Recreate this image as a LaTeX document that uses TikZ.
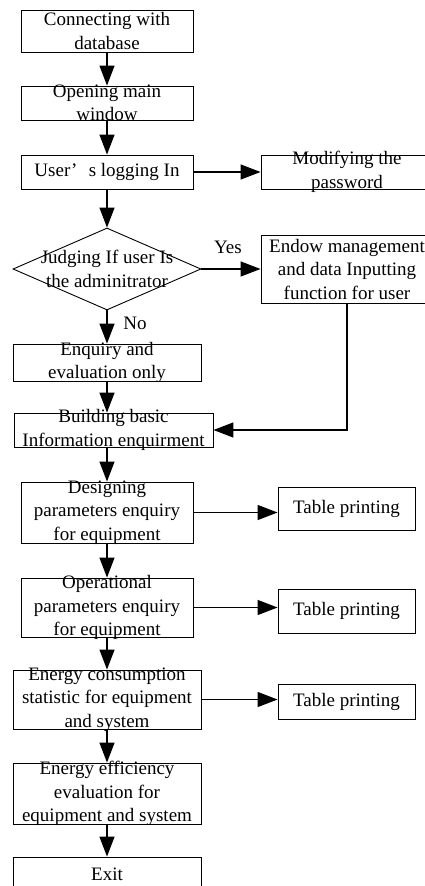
\documentclass[tikz,border=0pt]{standalone}
\usepackage{fontspec}
\setmainfont{Liberation Serif}
\usetikzlibrary{arrows.meta,shapes.geometric}

\tikzset{
    proc/.style={draw, line width=0.9pt, inner sep=0pt, minimum width=#1},
    txt/.style={align=center, inner sep=0pt, font=\fontsize{19}{23.5}\selectfont},
    arr/.style={-{Triangle[length=20pt,width=15pt]}, line width=1.4pt}
}

\begin{document}
\begin{tikzpicture}[x=1pt, y=-1pt]
    \useasboundingbox (0,0) rectangle (425,886);
    \clip (0,0) rectangle (425,886);

    % main column
    \node[proc=172, minimum height=42, label={[txt]center:Connecting with\\database}] (conn) at (107,31) {};
    \node[proc=172, minimum height=34, label={[txt]center:Opening main\\window}] (mainwin) at (107,103) {};
    \node[proc=172, minimum height=34, label={[txt]center:User’\hspace{.6em}s logging In}] (login) at (107,172) {};
    \node[draw, diamond, line width=0.9pt, inner sep=0pt, minimum width=188, minimum height=82,
          label={[txt]center:Judging If user Is\\the adminitrator}] (judge) at (107,269) {};
    \node[proc=188, minimum height=37, label={[txt]center:Enquiry and\\evaluation only}] (enquiry) at (107,362.5) {};
    \node[proc=199, minimum height=34, label={[txt]center:Building basic\\Information enquirment}] (build) at (113.5,430) {};
    \node[proc=172, minimum height=61, label={[txt]center:Designing\\parameters enquiry\\for equipment}] (design) at (107,512.5) {};
    \node[proc=172, minimum height=59, label={[txt]center:Operational\\parameters enquiry\\for equipment}] (oper) at (107,607.5) {};
    \node[proc=188, minimum height=59, label={[txt]center:Energy consumption\\statistic for equipment\\and system}] (energy) at (107,699.5) {};
    \node[proc=188, minimum height=61, label={[txt]center:Energy efficiency\\evaluation for\\equipment and system}] (effic) at (107,793.5) {};
    \node[proc=188, minimum height=34, label={[txt]center:Exit}] (exit) at (107,874) {};

    % side boxes
    \node[proc=172, minimum height=34, label={[txt]center:Modifying the\\password}] (passwd) at (347,172) {};
    \node[proc=172, minimum height=68, label={[txt]center:Endow management\\and data Inputting\\function for user}] (endow) at (347,269) {};
    \node[proc=137, minimum height=43, label={[txt]center:Table printing}] (tab1) at (346.5,508.5) {};
    \node[proc=137, minimum height=44, label={[txt]center:Table printing}] (tab2) at (346.5,611) {};
    \node[proc=137, minimum height=35, label={[txt]center:Table printing}] (tab3) at (346.5,701.5) {};

    \node[txt] (yes) at (228,247) {Yes};
    \node[txt] (no) at (135,323) {No};

    \draw[arr] (conn) -- (mainwin);
    \draw[arr] (mainwin) -- (login);
    \draw[arr] (login) -- (passwd);
    \draw[arr] (login) -- (judge);
    \draw[arr] (judge) -- (endow);
    \draw[arr] (judge) -- (enquiry);
    \draw[arr] (enquiry.south) -- (enquiry.south |- build.north);
    \draw[arr] (endow.south) |- (build.east);
    \draw[arr] (build.south -| design.north) -- (design.north);

    \draw[arr] (design) -- (oper);
    \draw[arr] (oper) -- (energy);
    \draw[arr] (energy) -- (effic);
    \draw[arr] (effic) -- (exit);

    \draw[arr] (design.east) -- (design.east -| tab1.west);
    \draw[arr] (oper.east) -- (oper.east -| tab2.west);
    \draw[arr] (energy.east) -- (energy.east -| tab3.west);
\end{tikzpicture}
\end{document}
